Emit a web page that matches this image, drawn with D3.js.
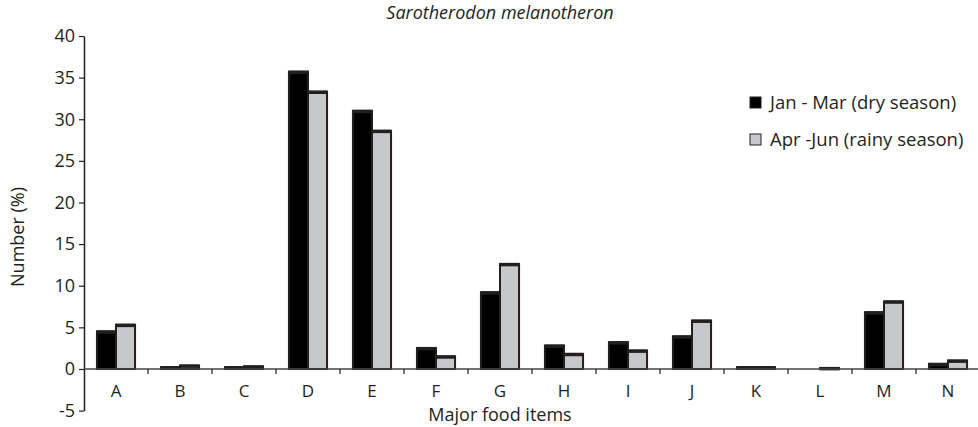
<!DOCTYPE html>
<html>
<head>
<meta charset="utf-8">
<script src="https://cdn.jsdelivr.net/npm/d3@7"></script>
<style>
  html, body { margin: 0; padding: 0; background: #fff; }
  svg { display: block; font-family: 'Open Sans', 'Noto Sans', sans-serif; }
</style>
</head>
<body>
<svg id="chart" width="978" height="427"></svg>
<script>
'use strict';

// Data
var categories = ['A', 'B', 'C', 'D', 'E', 'F', 'G', 'H', 'I', 'J', 'K', 'L', 'M', 'N'];
var seriesNames = ['Jan - Mar (dry season)', 'Apr -Jun (rainy season)'];
var dryValues = [4.5, 0.2, 0.2, 35.7, 31.0, 2.5, 9.2, 2.8, 3.2, 3.9, 0.2, 0.0, 6.8, 0.6];
var rainyValues = [5.3, 0.4, 0.3, 33.3, 28.6, 1.5, 12.6, 1.8, 2.2, 5.8, 0.2, 0.1, 8.1, 1.0];
var yTicks = [-5, 0, 5, 10, 15, 20, 25, 30, 35, 40];

var seriesFill = ['#000000', '#c7c8ca'];
var INK = '#231f20';

var svg = d3.select('#chart');

// Scales
var x = d3.scaleBand()
    .domain(categories)
    .range([84, 980])
    .padding(0);

var xInner = d3.scaleBand()
    .domain([0, 1])
    .range([0, x.bandwidth()])
    .paddingInner(0)
    .paddingOuter(0.68)
    .align(0.5);

var y = d3.scaleLinear()
    .domain([-5, 40])
    .range([410.6, 36]);

// Title
svg.append('text')
    .attr('x', 500)
    .attr('y', 19)
    .attr('text-anchor', 'middle')
    .style('font-style', 'italic')
    .style('font-size', '18px')
    .style('fill', INK)
    .text('Sarotherodon melanotheron');

// y axis
var yAxis = d3.axisLeft(y)
    .tickValues(yTicks)
    .tickFormat(function (d) { return String(d); })
    .tickSize(5)
    .tickSizeOuter(0)
    .tickPadding(4);
var yAxisEl = svg.append('g')
    .attr('transform', 'translate(84,0)')
    .call(yAxis);
yAxisEl.select('.domain').attr('stroke', INK).attr('stroke-width', 1.5);
yAxisEl.selectAll('.tick line').attr('stroke', INK).attr('stroke-width', 1.2);
yAxisEl.selectAll('.tick text')
    .style('font-size', '18px')
    .style('fill', INK)
    .style('font-family', "'Open Sans', sans-serif");

// y axis title
svg.append('text')
    .attr('transform', 'translate(24,237) rotate(-90)')
    .attr('text-anchor', 'middle')
    .style('font-size', '18px')
    .style('fill', INK)
    .text('Number (%)');

// Bars
var data = categories.map(function (c, i) {
    return { cat: c, values: [dryValues[i], rainyValues[i]] };
});

var groups = svg.append('g')
    .selectAll('g.cat')
    .data(data)
    .enter().append('g')
    .attr('class', 'cat')
    .attr('transform', function (d) { return 'translate(' + x(d.cat) + ',0)'; });

var bars = groups.selectAll('g.bar')
    .data(function (d) {
        return d.values.map(function (v, s) { return { s: s, v: v }; });
    })
    .enter().append('g')
    .attr('class', 'bar');

bars.append('rect')
    .attr('x', function (d) { return xInner(d.s); })
    .attr('width', xInner.bandwidth())
    .attr('y', function (d) { return y(d.v); })
    .attr('height', function (d) { return y(0) - y(d.v); })
    .style('fill', function (d) { return seriesFill[d.s]; })
    .style('stroke', INK)
    .style('stroke-width', 2);

// thick cap on top of each bar
bars.filter(function (d) { return d.v > 0; })
    .append('line')
    .attr('x1', function (d) { return xInner(d.s) - 0.5; })
    .attr('x2', function (d) { return xInner(d.s) + xInner.bandwidth() + 0.5; })
    .attr('y1', function (d) { return y(d.v) + 0.5; })
    .attr('y2', function (d) { return y(d.v) + 0.5; })
    .style('stroke', INK)
    .style('stroke-width', 3.5);

// x axis (at zero)
var xAxis = d3.axisBottom(x)
    .tickSize(0)
    .tickPadding(16);
var xAxisEl = svg.append('g')
    .attr('transform', 'translate(0,' + y(0) + ')')
    .call(xAxis);
xAxisEl.select('.domain').remove();
xAxisEl.selectAll('.tick text')
    .style('font-size', '17px')
    .style('fill', INK)
    .style('font-family', "'Open Sans', sans-serif");

xAxisEl.append('line')
    .attr('x1', 84)
    .attr('x2', 978)
    .attr('y1', 0)
    .attr('y2', 0)
    .style('stroke', '#444')
    .style('stroke-width', 1.5);

// separators between categories
xAxisEl.selectAll('line.sep')
    .data(categories.slice(1))
    .enter().append('line')
    .attr('class', 'sep')
    .attr('x1', function (d) { return x(d); })
    .attr('x2', function (d) { return x(d); })
    .attr('y1', 0)
    .attr('y2', 5)
    .style('stroke', INK)
    .style('stroke-width', 1.2);

// x axis title
svg.append('text')
    .attr('x', 500)
    .attr('y', 421)
    .attr('text-anchor', 'middle')
    .style('font-size', '18px')
    .style('fill', INK)
    .text('Major food items');

// Legend
var legend = svg.append('g')
    .selectAll('g.legend')
    .data(seriesNames)
    .enter().append('g')
    .attr('class', 'legend')
    .attr('transform', function (d, i) { return 'translate(750,' + (97 + i * 37) + ')'; });

legend.append('rect')
    .attr('width', 11)
    .attr('height', 11)
    .style('fill', function (d, i) { return seriesFill[i]; })
    .style('stroke', INK)
    .style('stroke-width', 1);

legend.append('text')
    .attr('x', 20)
    .attr('y', 11.5)
    .style('font-size', '18.5px')
    .style('fill', INK)
    .text(function (d) { return d; });
</script>
</body>
</html>
